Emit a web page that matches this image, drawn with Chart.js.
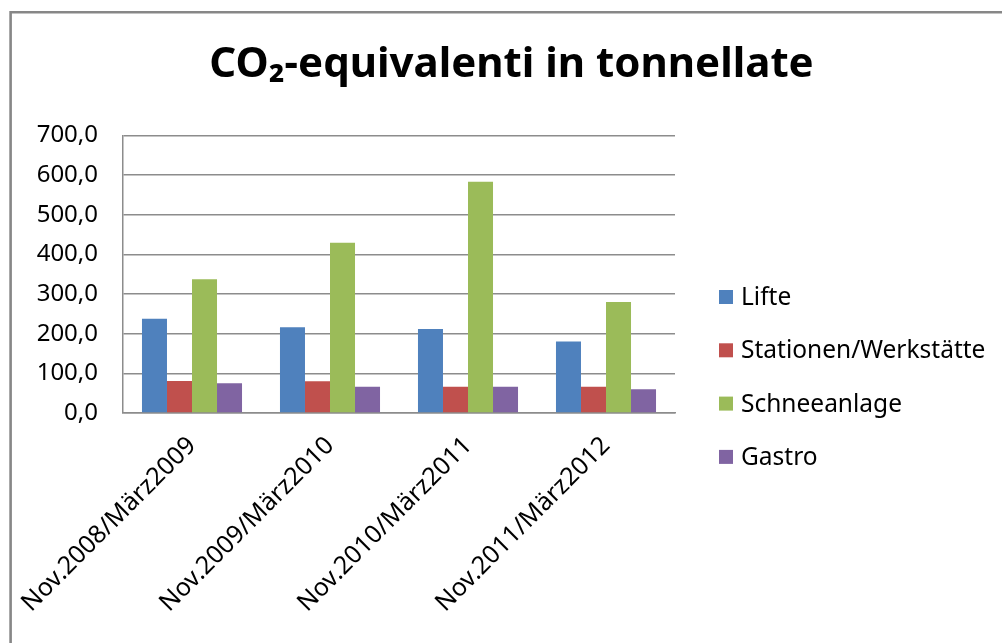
<!DOCTYPE html>
<html>
<head>
<meta charset="utf-8">
<script src="https://cdn.jsdelivr.net/npm/chart.js@4/dist/chart.umd.min.js"></script>
<style>
  html, body { margin: 0; padding: 0; background: #ffffff; }
  #wrap { width: 1002px; height: 643px; position: relative; }
</style>
</head>
<body>
<div id="wrap"><canvas id="c" width="1002" height="643"></canvas></div>
<script>
// Seasons (Nov.–März) and CO2-equivalent emissions per area, in tonnes
const seasons = ['Nov.2008/März2009', 'Nov.2009/März2010', 'Nov.2010/März2011', 'Nov.2011/März2012'];
const seriesNames = ['Lifte', 'Stationen/Werkstätte', 'Schneeanlage', 'Gastro'];
const lifte = [237.5, 216, 212, 180];
const stationen = [81, 80, 66, 66];
const schneeanlage = [337, 429, 583, 280];
const gastro = [75, 66, 66, 60];
const yTicks = [0, 100, 200, 300, 400, 500, 600, 700];
const chartTitle = 'CO\u2082-equivalenti in tonnellate';

const colors = ['#4F81BD', '#C0504D', '#9BBB59', '#8064A2'];
const seriesValues = [lifte, stationen, schneeanlage, gastro];

const FONT = '"Noto Sans", "Open Sans", sans-serif';

// Gray frame around the chart (only top and left edges fall inside the view)
const framePlugin = {
  id: 'frame',
  beforeDraw(chart) {
    const ctx = chart.ctx;
    ctx.save();
    ctx.strokeStyle = '#878787';
    ctx.lineWidth = 2.6;
    ctx.beginPath();
    ctx.moveTo(10.6, chart.height + 2);
    ctx.lineTo(10.6, 12.3);
    ctx.lineTo(chart.width + 2, 12.3);
    ctx.stroke();
    ctx.restore();
  }
};

// Legend on the right: colour squares with series names
const sideLegend = {
  id: 'sideLegend',
  afterDraw(chart) {
    const ctx = chart.ctx;
    ctx.save();
    ctx.font = '24.5px ' + FONT;
    ctx.textBaseline = 'middle';
    ctx.textAlign = 'left';
    chart.data.datasets.forEach((ds, i) => {
      const cy = 297 + i * 53.3;
      ctx.fillStyle = ds.backgroundColor;
      ctx.fillRect(719, cy - 7, 14, 14);
      ctx.fillStyle = '#000000';
      ctx.fillText(ds.label, 741, cy + 1);
    });
    ctx.restore();
  }
};

const fmt = v => v.toFixed(1).replace('.', ',');

new Chart(document.getElementById('c'), {
  type: 'bar',
  data: {
    labels: seasons,
    datasets: seriesNames.map((name, i) => ({
      label: name,
      data: seriesValues[i],
      backgroundColor: colors[i],
      borderWidth: 0,
      categoryPercentage: 0.725,
      barPercentage: 1.0
    }))
  },
  options: {
    responsive: false,
    animation: false,
    devicePixelRatio: 1,
    layout: { padding: { left: 21, right: 0, top: 0, bottom: 0 } },
    plugins: {
      legend: { display: false },
      tooltip: { enabled: false },
      title: {
        display: true,
        text: chartTitle,
        color: '#000000',
        font: { family: FONT, size: 42, weight: 'bold', lineHeight: 1.2 },
        padding: { top: 40, bottom: 45 }
      }
    },
    scales: {
      x: {
        grid: { display: false, drawTicks: false },
        border: { display: true, color: '#8c8c8c', width: 1.5 },
        ticks: {
          color: '#000000',
          font: { family: FONT, size: 25 },
          minRotation: 45,
          maxRotation: 45,
          autoSkip: false,
          padding: 18
        },
        afterFit(s) {
          s.height = 230;
          // rotated labels may run past the plot edge; keep the plot width fixed
          s.paddingLeft = 0;
          s.paddingRight = 0;
        }
      },
      y: {
        min: 0,
        max: 700,
        grid: { color: '#8c8c8c', lineWidth: 1.5, drawTicks: false },
        border: { display: true, color: '#8c8c8c', width: 1.5 },
        ticks: {
          color: '#000000',
          font: { family: FONT, size: 24 },
          padding: 25,
          stepSize: 100,
          callback: v => fmt(v)
        },
        afterBuildTicks(s) { s.ticks = yTicks.map(v => ({ value: v })); },
        afterFit(s) { s.width = 102; }
      },
      legendSpace: {
        type: 'linear',
        position: 'right',
        display: true,
        grid: { display: false, drawTicks: false },
        border: { display: false },
        ticks: { display: false },
        afterFit(s) { s.width = 327; }
      }
    }
  },
  plugins: [framePlugin, sideLegend]
});
</script>
</body>
</html>
